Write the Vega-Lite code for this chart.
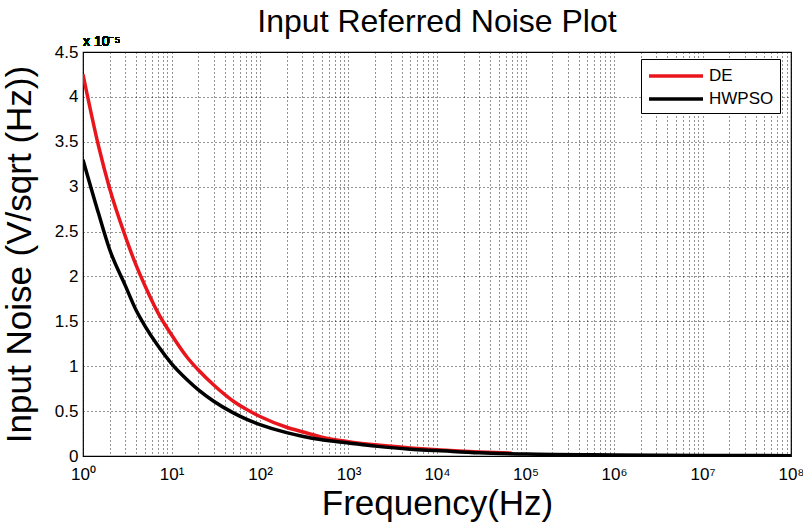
{
  "$schema": "https://vega.github.io/schema/vega-lite/v6.json",
  "width": 708,
  "height": 404,
  "autosize": {"type": "none"},
  "padding": {"left": 83, "top": 52, "right": 12, "bottom": 69},
  "background": "white",
  "title": {"text": "Input Referred Noise Plot", "font": "Liberation Sans", "fontSize": 32, "fontWeight": "normal", "color": "black", "offset": -4, "anchor": "middle"},
  "config": {
    "view": {"stroke": "black", "strokeWidth": 1.2},
    "font": "Liberation Sans",
    "legend": {"orient": "none", "legendX": 558, "legendY": 7, "fillColor": "white", "strokeColor": "black", "padding": 6, "symbolType": "M-3,0L3,0", "symbolStrokeWidth": 3.5, "symbolSize": 324, "symbolOffset": 18, "labelOffset": 22, "labelFontSize": 17, "labelFont": "Liberation Sans", "labelColor": "black", "rowPadding": 4, "title": null}
  },
  "data": {"values": [
    {"f": 1, "series": "DE", "noise": 4.25},
    {"f": 1.5, "series": "DE", "noise": 3.45},
    {"f": 2, "series": "DE", "noise": 2.98},
    {"f": 3, "series": "DE", "noise": 2.45},
    {"f": 4, "series": "DE", "noise": 2.12},
    {"f": 5, "series": "DE", "noise": 1.9},
    {"f": 7, "series": "DE", "noise": 1.6},
    {"f": 10, "series": "DE", "noise": 1.35},
    {"f": 15, "series": "DE", "noise": 1.1},
    {"f": 20, "series": "DE", "noise": 0.96},
    {"f": 30, "series": "DE", "noise": 0.79},
    {"f": 50, "series": "DE", "noise": 0.61},
    {"f": 70, "series": "DE", "noise": 0.52},
    {"f": 100, "series": "DE", "noise": 0.44},
    {"f": 200, "series": "DE", "noise": 0.32},
    {"f": 300, "series": "DE", "noise": 0.27},
    {"f": 500, "series": "DE", "noise": 0.21},
    {"f": 1000, "series": "DE", "noise": 0.16},
    {"f": 2000, "series": "DE", "noise": 0.125},
    {"f": 5000, "series": "DE", "noise": 0.09},
    {"f": 10000, "series": "DE", "noise": 0.07},
    {"f": 30000, "series": "DE", "noise": 0.045},
    {"f": 70000, "series": "DE", "noise": 0.032},
    {"f": 1, "series": "HWPSO", "noise": 3.3},
    {"f": 1.5, "series": "HWPSO", "noise": 2.7},
    {"f": 2, "series": "HWPSO", "noise": 2.3},
    {"f": 3, "series": "HWPSO", "noise": 1.9},
    {"f": 4, "series": "HWPSO", "noise": 1.62},
    {"f": 5, "series": "HWPSO", "noise": 1.45},
    {"f": 7, "series": "HWPSO", "noise": 1.23},
    {"f": 10, "series": "HWPSO", "noise": 1.03},
    {"f": 15, "series": "HWPSO", "noise": 0.85},
    {"f": 20, "series": "HWPSO", "noise": 0.74},
    {"f": 30, "series": "HWPSO", "noise": 0.61},
    {"f": 50, "series": "HWPSO", "noise": 0.48},
    {"f": 70, "series": "HWPSO", "noise": 0.41},
    {"f": 100, "series": "HWPSO", "noise": 0.35},
    {"f": 200, "series": "HWPSO", "noise": 0.26},
    {"f": 300, "series": "HWPSO", "noise": 0.22},
    {"f": 500, "series": "HWPSO", "noise": 0.18},
    {"f": 1000, "series": "HWPSO", "noise": 0.145},
    {"f": 2000, "series": "HWPSO", "noise": 0.11},
    {"f": 5000, "series": "HWPSO", "noise": 0.075},
    {"f": 10000, "series": "HWPSO", "noise": 0.06},
    {"f": 30000, "series": "HWPSO", "noise": 0.035},
    {"f": 100000, "series": "HWPSO", "noise": 0.022},
    {"f": 1000000, "series": "HWPSO", "noise": 0.012},
    {"f": 10000000, "series": "HWPSO", "noise": 0.006},
    {"f": 100000000, "series": "HWPSO", "noise": 0.004}
  ]},
  "layer": [
    {
      "mark": {"type": "line", "strokeWidth": 3.5, "clip": true, "interpolate": "monotone"},
      "encoding": {
        "x": {"field": "f", "type": "quantitative",
          "scale": {"type": "log", "domain": [1, 100000000], "nice": false},
          "axis": {
            "title": "Frequency(Hz)", "titleFontSize": 35, "titleFontWeight": "normal", "titleColor": "black", "titlePadding": 4, "titleFont": "Liberation Sans",
            "values": [1,2,3,4,5,6,7,8,9,10,20,30,40,50,60,70,80,90,100,200,300,400,500,600,700,800,900,1000,2000,3000,4000,5000,6000,7000,8000,9000,10000,20000,30000,40000,50000,60000,70000,80000,90000,100000,200000,300000,400000,500000,600000,700000,800000,900000,1000000,2000000,3000000,4000000,5000000,6000000,7000000,8000000,9000000,10000000,20000000,30000000,40000000,50000000,60000000,70000000,80000000,90000000,100000000],
            "labelExpr": "abs(log(datum.value)/LN10 - round(log(datum.value)/LN10)) < 0.000001 ? '10' + ['⁰','¹','²','³','⁴','⁵','⁶','⁷','⁸'][round(log(datum.value)/LN10)] : ''",
            "labelOverlap": false, "labelFontSize": 17, "labelColor": "black", "labelPadding": 10, "labelFlush": false,
            "ticks": false, "domain": false,
            "grid": true, "gridColor": "black", "gridDash": [1, 3], "gridOpacity": 0.85, "gridWidth": 1
          }
        },
        "y": {"field": "noise", "type": "quantitative",
          "scale": {"domain": [0, 4.5], "nice": false},
          "axis": {
            "title": "Input Noise (V/sqrt (Hz))", "titleFontSize": 35, "titleFontWeight": "normal", "titleColor": "black", "titlePadding": 17, "titleFont": "Liberation Sans",
            "values": [0, 0.5, 1, 1.5, 2, 2.5, 3, 3.5, 4, 4.5],
            "labelExpr": "format(datum.value, '~g')",
            "labelFontSize": 17, "labelColor": "black", "labelPadding": 5,
            "ticks": false, "domain": false,
            "grid": true, "gridColor": "black", "gridDash": [1, 3], "gridOpacity": 0.85, "gridWidth": 1
          }
        },
        "color": {"field": "series", "type": "nominal",
          "scale": {"domain": ["DE", "HWPSO"], "range": ["#e8161c", "#000000"]},
          "legend": {}
        }
      }
    },
    {
      "mark": {"type": "text", "align": "left", "baseline": "bottom", "dy": -3, "fontSize": 14, "color": "black", "font": "Liberation Sans"},
      "encoding": {
        "x": {"datum": 1},
        "y": {"datum": 4.5},
        "text": {"value": "x 10⁻⁵"}
      }
    }
  ]
}
